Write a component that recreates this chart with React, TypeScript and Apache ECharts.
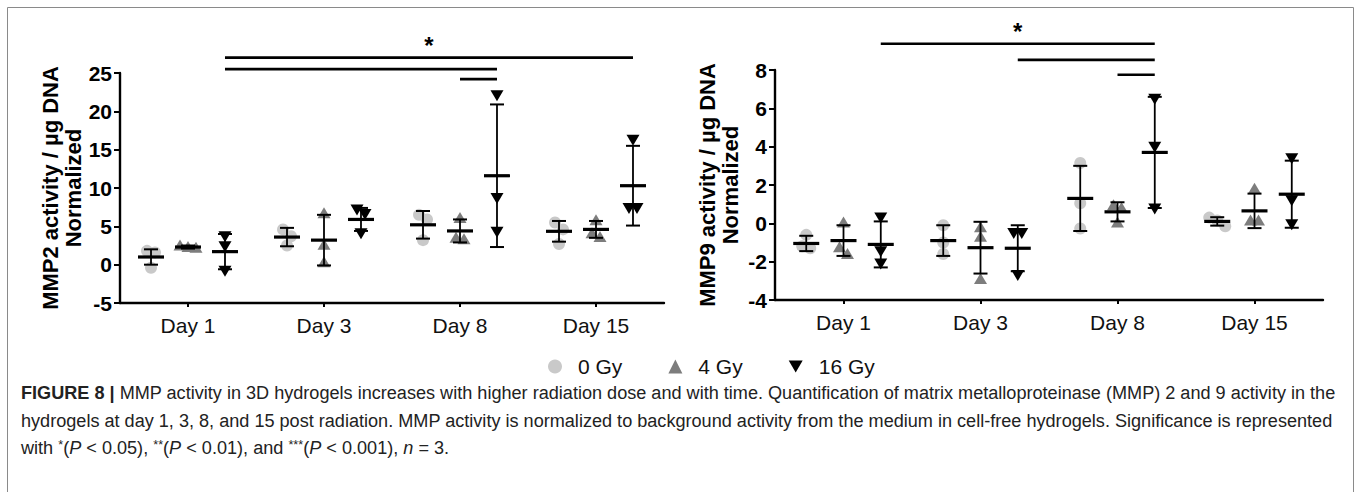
import React, { useEffect, useRef } from "react";
import * as echarts from "echarts";

// ---------- data ----------
const categories = ["Day 1", "Day 3", "Day 8", "Day 15"];
const doses = ["0 Gy", "4 Gy", "16 Gy"];

// MMP2 replicates (3 per day)
const mmp2Points0 = [[-0.4, 1.6, 1.8], [2.5, 3.7, 4.6], [3.2, 5.9, 6.5], [2.7, 4.6, 5.5]];
const mmp2Points4 = [[2.2, 2.3, 2.5], [0.3, 2.6, 6.7], [3.3, 3.5, 6.1], [3.6, 4.1, 5.8]];
const mmp2Points16 = [[-0.8, 2.4, 3.7], [4.1, 6.6, 7.2], [4.3, 8.7, 22.1], [7.4, 7.4, 16.3]];
const mmp2Mean0 = [1.0, 3.6, 5.2, 4.35];
const mmp2Sd0 = [1.0, 1.2, 1.8, 1.35];
const mmp2Mean4 = [2.3, 3.2, 4.4, 4.6];
const mmp2Sd4 = [0.2, 3.3, 1.5, 1.1];
const mmp2Mean16 = [1.7, 5.9, 11.6, 10.3];
const mmp2Sd16 = [2.3, 1.5, 9.3, 5.2];

// MMP9 replicates (3 per day)
const mmp9Points0 = [[-0.6, -1.2, -1.3], [-0.1, -1.0, -1.6], [3.15, 1.05, -0.27], [-0.15, 0.15, 0.3]];
const mmp9Points4 = [[0.05, -1.25, -1.6], [-0.2, -0.7, -2.9], [0.05, 0.8, 0.95], [1.8, 0.15, 0.15]];
const mmp9Points16 = [[0.3, -1.45, -2.1], [-0.5, -0.5, -2.7], [6.5, 4.0, 0.78], [3.4, 1.2, -0.05]];
const mmp9Mean0 = [-1.05, -0.9, 1.3, 0.1];
const mmp9Sd0 = [0.4, 0.8, 1.7, 0.22];
const mmp9Mean4 = [-0.9, -1.27, 0.6, 0.65];
const mmp9Sd4 = [0.8, 1.35, 0.5, 0.9];
const mmp9Mean16 = [-1.1, -1.3, 3.7, 1.52];
const mmp9Sd16 = [1.2, 1.2, 2.9, 1.75];

// significance brackets: [fromDay, fromDose, toDay, toDose, yValue]
const mmp2Sig = [[0, 2, 3, 2, 27.0], [0, 2, 2, 2, 25.5], [2, 1, 2, 2, 24.2]];
const mmp9Sig = [[0, 2, 2, 2, 9.37], [1, 2, 2, 2, 8.53], [2, 1, 2, 2, 7.75]];
const mmp2SigLabels = ["*", "", ""];
const mmp9SigLabels = ["*", "", ""];

// axis ticks
const mmp2Axis = { min: -5, max: 25, interval: 5 };
const mmp9Axis = { min: -4, max: 8, interval: 2 };
const mmp2Title = "MMP2 activity / µg DNA\nNormalized";
const mmp9Title = "MMP9 activity / µg DNA\nNormalized";

const captionLines = [
  "{b|FIGURE 8 |} MMP activity in 3D hydrogels increases with higher radiation dose and with time. Quantification of matrix metalloproteinase (MMP) 2 and 9 activity in the",
  "hydrogels at day 1, 3, 8, and 15 post radiation. MMP activity is normalized to background activity from the medium in cell-free hydrogels. Significance is represented",
  "with {s|*}({i|P} < 0.05), {s|**}({i|P} < 0.01), and {s|***}({i|P} < 0.001), {i|n} = 3.",
];
const captionPlain0 =
  "FIGURE 8 | MMP activity in 3D hydrogels increases with higher radiation dose and with time. Quantification of matrix metalloproteinase (MMP) 2 and 9 activity in the";

// ---------- styles ----------
const doseColors = ["#c9c9c9", "#7d7d7d", "#000000"];
const doseOffsets = [-0.272, 0, 0.272];
const SANS = "'Liberation Sans', Arial, sans-serif";
const CAP_SIZE = 19;

function measure(text: string, family: string, size: number) {
  const c = document.createElement("canvas").getContext("2d");
  if (!c) return text.length * size * 0.5;
  c.font = `normal ${size}px ${family}`;
  return c.measureText(text).width;
}

function marker(dose: number, x: number, y: number) {
  const color = doseColors[dose];
  if (dose === 0) {
    return { type: "circle", shape: { cx: x, cy: y, r: 6 }, style: { fill: color } };
  }
  if (dose === 1) {
    return {
      type: "polygon",
      shape: { points: [[x - 6.5, y + 5], [x + 6.5, y + 5], [x, y - 6]] },
      style: { fill: color },
    };
  }
  return {
    type: "polygon",
    shape: { points: [[x - 6.5, y - 5], [x + 6.5, y - 5], [x, y + 6]] },
    style: { fill: color },
  };
}

function seg(x1: number, y1: number, x2: number, y2: number, w: number) {
  return {
    type: "line",
    shape: { x1, y1, x2, y2 },
    style: { stroke: "#000", lineWidth: w },
  };
}

function dataSeries(chart: number, dose: number, means: number[], sds: number[], pts: number[][]) {
  return {
    type: "custom",
    name: doses[dose],
    xAxisIndex: chart,
    yAxisIndex: chart,
    itemStyle: { color: doseColors[dose] },
    encode: { x: 0, y: 1 },
    clip: false,
    data: categories.map((_, i) => [i, means[i], sds[i], pts[i][0], pts[i][1], pts[i][2]]),
    renderItem: (params: any, api: any) => {
      const day = api.value(0);
      const mean = api.value(1);
      const sd = api.value(2);
      const band = api.size([1, 0])[0];
      const c = api.coord([day, mean]);
      const cx = c[0] + doseOffsets[dose] * band;
      const yT = api.coord([day, mean + sd])[1];
      const yB = api.coord([day, mean - sd])[1];
      const pys = [3, 4, 5].map((k) => api.coord([day, api.value(k)])[1]);
      const order = [0, 1, 2].sort((a, b) => pys[a] - pys[b]);
      const xs = [cx, cx, cx];
      const clusters: number[][] = [];
      let cur = [order[0]];
      for (let k = 1; k < 3; k++) {
        if (pys[order[k]] - pys[order[k - 1]] < 9) cur.push(order[k]);
        else {
          clusters.push(cur);
          cur = [order[k]];
        }
      }
      clusters.push(cur);
      clusters.forEach((cl) =>
        cl.forEach((idx, j) => {
          xs[idx] = cx + (j - (cl.length - 1) / 2) * 8;
        })
      );
      const children: any[] = [];
      pys.forEach((py, k) => children.push(marker(dose, xs[k], py)));
      children.push(seg(cx, yT, cx, yB, 1.8));
      children.push(seg(cx - 7, yT, cx + 7, yT, 2));
      children.push(seg(cx - 7, yB, cx + 7, yB, 2));
      children.push(seg(cx - 13, c[1], cx + 13, c[1], 3.2));
      return { type: "group", children };
    },
  };
}

function sigSeries(chart: number, rows: number[][], labels: string[]) {
  return {
    type: "custom",
    name: "sig" + chart,
    xAxisIndex: chart,
    yAxisIndex: chart,
    encode: { x: 0, y: 4 },
    clip: false,
    silent: true,
    data: rows,
    renderItem: (params: any, api: any) => {
      const band = api.size([1, 0])[0];
      const y = api.value(4);
      const p1 = api.coord([api.value(0), y]);
      const p2 = api.coord([api.value(2), y]);
      const x1 = p1[0] + doseOffsets[api.value(1)] * band;
      const x2 = p2[0] + doseOffsets[api.value(3)] * band;
      const children: any[] = [seg(x1, p1[1], x2, p2[1], 2.6)];
      const lab = labels[params.dataIndex];
      if (lab) {
        children.push({
          type: "text",
          style: {
            text: lab,
            x: (x1 + x2) / 2,
            y: p1[1] - 12,
            align: "center",
            verticalAlign: "middle",
            fontSize: 24,
            fontWeight: "bold",
            fontFamily: SANS,
            fill: "#000",
          },
        });
      }
      return { type: "group", children };
    },
  };
}

function yAxis(grid: number, cfg: { min: number; max: number; interval: number }, title: string, gap: number) {
  return {
    type: "value",
    gridIndex: grid,
    min: cfg.min,
    max: cfg.max,
    interval: cfg.interval,
    name: title,
    nameLocation: "middle",
    nameGap: gap,
    nameTextStyle: { fontSize: 22, fontWeight: "bold", fontFamily: SANS, color: "#000", lineHeight: 23 },
    axisLine: { show: true, onZero: false, lineStyle: { color: "#000", width: 2.4 } },
    axisTick: { show: true, length: 6, lineStyle: { color: "#000", width: 2 } },
    axisLabel: { fontSize: 21, fontWeight: "bold", fontFamily: SANS, color: "#000", margin: 8 },
    splitLine: { show: false },
  };
}

function xAxis(grid: number) {
  return {
    type: "category",
    gridIndex: grid,
    data: categories,
    axisLine: { show: true, onZero: false, lineStyle: { color: "#000", width: 2.4 } },
    axisTick: { show: true, alignWithLabel: true, length: 4, lineStyle: { color: "#000", width: 2 } },
    axisLabel: { fontSize: 21, fontFamily: SANS, color: "#111", margin: 12, interval: 0 },
    splitLine: { show: false },
  };
}

export default function App() {
  const ref = useRef<HTMLDivElement>(null);
  useEffect(() => {
    if (!ref.current) return;
    const chart = echarts.init(ref.current, undefined, { renderer: "svg" });
    const natural = measure(captionPlain0, SANS, CAP_SIZE) + 3;
    const capScale = Math.min(1, 1318 / natural);
    const captionRich = {
      b: { fontWeight: "bold", fontFamily: SANS, fontSize: CAP_SIZE, fill: "#222" },
      i: { fontStyle: "italic", fontFamily: SANS, fontSize: CAP_SIZE, fill: "#222" },
      s: { fontFamily: SANS, fontSize: CAP_SIZE * 0.7, fill: "#222", verticalAlign: "top" },
    };
    const captionY = [392, 420, 447];
    const option: any = {
      animation: false,
      grid: [
        { left: 120, top: 73, width: 544, height: 230 },
        { left: 775, top: 70, width: 548, height: 230 },
      ],
      xAxis: [xAxis(0), xAxis(1)],
      yAxis: [yAxis(0, mmp2Axis, mmp2Title, 34), yAxis(1, mmp9Axis, mmp9Title, 33)],
      legend: {
        left: 543,
        top: 351,
        selectedMode: false,
        itemWidth: 14,
        itemHeight: 14,
        itemGap: 46,
        textStyle: { fontSize: 21, fontFamily: SANS, color: "#111", padding: [0, 0, 0, 11] },
        data: [
          { name: "0 Gy", icon: "circle" },
          { name: "4 Gy", icon: "triangle" },
          { name: "16 Gy", icon: "path://M0,0L13,0L6.5,11Z" },
        ],
      },
      graphic: [
        {
          type: "rect",
          shape: { x: 7.5, y: 7.5, width: 1346, height: 520 },
          style: { fill: "none", stroke: "#8a8a8a", lineWidth: 1 },
          silent: true,
        },
        ...captionLines.map((t, i) => ({
          type: "text",
          x: 21,
          y: captionY[i],
          scaleX: capScale,
          style: {
            text: t,
            fontFamily: SANS,
            fontSize: CAP_SIZE,
            fill: "#222",
            verticalAlign: "middle",
            rich: captionRich,
          },
        })),
      ],
      series: [
        dataSeries(0, 0, mmp2Mean0, mmp2Sd0, mmp2Points0),
        dataSeries(0, 1, mmp2Mean4, mmp2Sd4, mmp2Points4),
        dataSeries(0, 2, mmp2Mean16, mmp2Sd16, mmp2Points16),
        dataSeries(1, 0, mmp9Mean0, mmp9Sd0, mmp9Points0),
        dataSeries(1, 1, mmp9Mean4, mmp9Sd4, mmp9Points4),
        dataSeries(1, 2, mmp9Mean16, mmp9Sd16, mmp9Points16),
        sigSeries(0, mmp2Sig, mmp2SigLabels),
        sigSeries(1, mmp9Sig, mmp9SigLabels),
      ],
    };
    chart.setOption(option);
    return () => chart.dispose();
  }, []);
  return (
    <div
      ref={ref}
      style={{ position: "absolute", left: 0, top: 0, width: 1363, height: 492, background: "#fff" }}
    />
  );
}
